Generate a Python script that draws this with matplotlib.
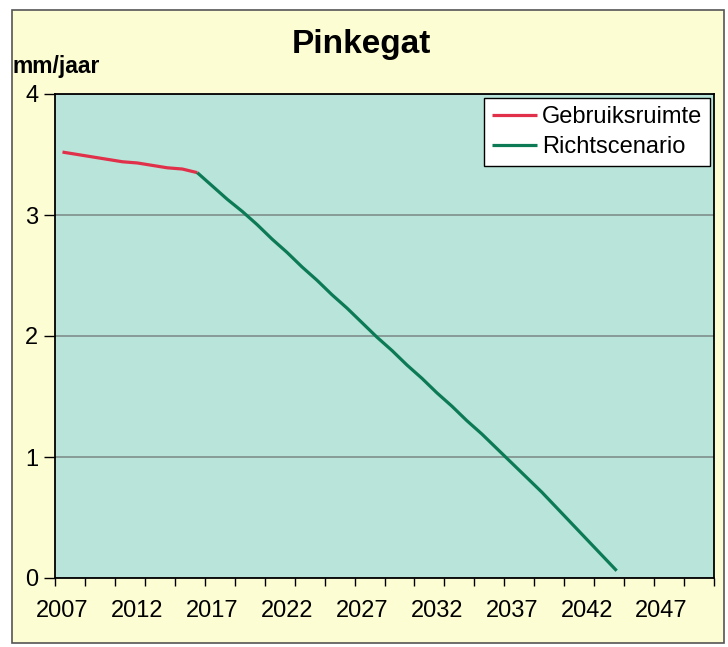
import matplotlib
matplotlib.use('Agg')
import matplotlib.pyplot as plt
from matplotlib.patches import Rectangle

plt.rcParams['font.family'] = ['Liberation Sans', 'DejaVu Sans']

# data (mm/jaar)
years_gebruik = list(range(2007, 2017))
gebruiksruimte = [3.52, 3.50, 3.48, 3.46, 3.44, 3.43, 3.41, 3.39, 3.38, 3.35]

years_richt = list(range(2016, 2045))
richtscenario = [3.35, 3.24, 3.13, 3.03, 2.92, 2.80, 2.69, 2.57, 2.46, 2.34,
                 2.23, 2.11, 1.99, 1.88, 1.76, 1.65, 1.53, 1.42, 1.30, 1.19,
                 1.07, 0.95, 0.83, 0.71, 0.58, 0.45, 0.32, 0.19, 0.06]

label_years = list(range(2007, 2048, 5))
y_ticks = [0, 1, 2, 3, 4]

W, H = 728, 647
fig = plt.figure(figsize=(W / 100, H / 100), dpi=100, facecolor='white')

# yellow chart frame
frame = Rectangle((12 / W, 1 - 643 / H), 712 / W, 633 / H,
                  transform=fig.transFigure, facecolor='#FDFDD3',
                  edgecolor='#555555', linewidth=1.2, zorder=-10)
fig.patches.append(frame)

ax = fig.add_axes([55 / W, 1 - 578 / H, 659 / W, 484 / H])
ax.set_zorder(1)
ax.set_facecolor('#B9E4D9')

ax.plot(years_gebruik, gebruiksruimte, color='#E0304A', lw=2.3, label='Gebruiksruimte',
        solid_capstyle='butt', zorder=3)
ax.plot(years_richt, richtscenario, color='#0B7A55', lw=2.3, label='Richtscenario',
        solid_capstyle='butt', zorder=3)

ax.set_xlim(2006.5, 2050.5)
ax.set_ylim(0, 4)

# category-style axis: tick marks between categories, labels on categories
ax.set_xticks([2006.5 + 2 * i for i in range(23)])
ax.set_xticklabels([])
ax.set_xticks(label_years, minor=True)
ax.set_xticklabels([str(y) for y in label_years], minor=True, fontsize=17)
ax.tick_params(axis='x', which='major', direction='out', length=6, width=1, color='black')
ax.tick_params(axis='x', which='minor', length=0, pad=16)

ax.set_yticks(y_ticks)
ax.set_yticklabels([str(v) for v in y_ticks], fontsize=17)
ax.tick_params(axis='y', direction='out', length=8, width=1, pad=4)

ax.grid(axis='y', color='#7F8F8C', lw=1.2)
ax.set_axisbelow(True)
for s in ax.spines.values():
    s.set_color('black')
    s.set_linewidth(1.3)

leg = ax.legend(loc='upper right', fontsize=17, frameon=True, fancybox=False,
                edgecolor='black', handlelength=1.9, handletextpad=0.2,
                borderpad=0.35, labelspacing=0.35, borderaxespad=0.15)
leg.get_frame().set_facecolor('white')
leg.get_frame().set_alpha(1)
leg.get_frame().set_linewidth(1.0)
for line in leg.get_lines():
    line.set_linewidth(2.3)

fig.text(361 / W, 1 - 45 / H, 'Pinkegat', ha='center', va='center',
         fontsize=24, fontweight='bold')
fig.text(12 / W, 1 - 67 / H, 'mm/jaar', ha='left', va='center',
         fontsize=16.5, fontweight='bold')

fig.savefig('out.png', dpi=100)
